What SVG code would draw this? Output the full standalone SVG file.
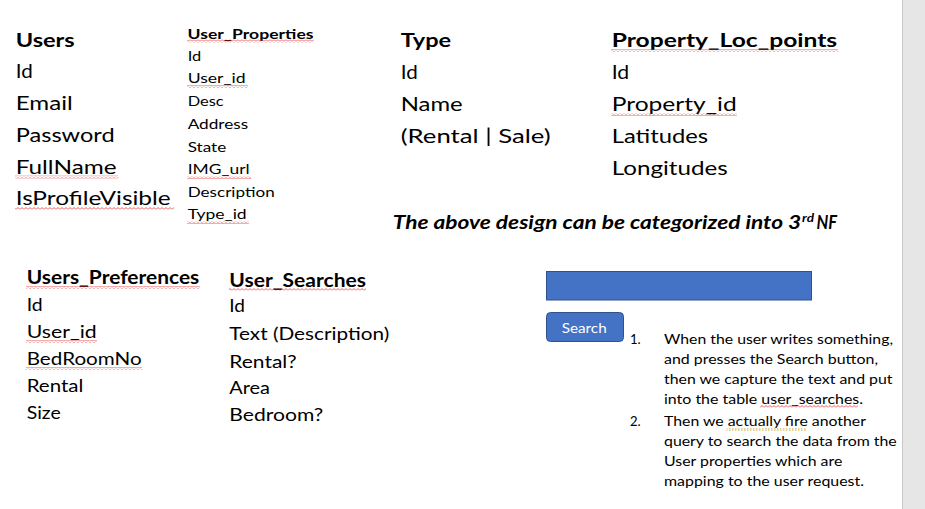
<svg xmlns="http://www.w3.org/2000/svg" width="925" height="509" viewBox="0 0 925 509">
<style>
text{font-family:Lato,"Noto Sans","Liberation Sans",sans-serif;fill:#000}
.big{font-size:19.5px}
.big-b{font-size:19.5px;font-weight:bold}
.sm{font-size:14px}
.sm-b{font-size:14px;font-weight:bold}
.md{font-size:18px}
.md-b{font-size:18px;font-weight:bold}
.it{font-size:19px;font-weight:bold;font-style:italic}
.btn{font-size:14px;fill:#fff}
.sq{fill:url(#wave)}
</style>
<defs>
<pattern id="wave" x="0" y="0" width="4" height="3" patternUnits="userSpaceOnUse">
<path d="M0,2.5 L2,0.5 L4,2.5" fill="none" stroke="#e03030" stroke-width="0.8"/>
</pattern>
<pattern id="dots" x="0" y="0" width="3" height="2" patternUnits="userSpaceOnUse">
<rect x="0" y="0" width="1.5" height="1.5" fill="#c9a227"/>
</pattern>
</defs>
<rect width="925" height="509" fill="#fff"/>
<rect x="902" y="0" width="23" height="509" fill="#e6e6e6"/>
<line x1="902.5" y1="0" x2="902.5" y2="509" stroke="#c8c8c8" stroke-width="1"/>

<g id="users">
<text class="big-b" x="15.7" y="46.5" textLength="59" lengthAdjust="spacingAndGlyphs">Users</text>
<text class="big" x="15.7" y="78" textLength="17" lengthAdjust="spacingAndGlyphs">Id</text>
<text class="big" x="15.7" y="110" textLength="57" lengthAdjust="spacingAndGlyphs">Email</text>
<text class="big" x="15.7" y="141.7" textLength="99" lengthAdjust="spacingAndGlyphs">Password</text>
<text class="big" x="15.7" y="173.7" textLength="101" lengthAdjust="spacingAndGlyphs">FullName</text>
<text class="big" x="15.7" y="205.3" textLength="155" lengthAdjust="spacingAndGlyphs">IsProfileVisible</text>
<rect class="sq" x="15" y="175.5" width="103" height="3"/>
<rect class="sq" x="15" y="207" width="159" height="3"/>
</g>

<g id="user_properties">
<text class="sm-b" x="187.5" y="38.5" textLength="126" lengthAdjust="spacingAndGlyphs">User_Properties</text>
<text class="sm" x="187.7" y="60.8" textLength="13.5" lengthAdjust="spacingAndGlyphs">Id</text>
<text class="sm" x="187.7" y="83.4" textLength="58" lengthAdjust="spacingAndGlyphs">User_id</text>
<text class="sm" x="187.7" y="106" textLength="36" lengthAdjust="spacingAndGlyphs">Desc</text>
<text class="sm" x="187.7" y="128.8" textLength="60.5" lengthAdjust="spacingAndGlyphs">Address</text>
<text class="sm" x="187.7" y="151.5" textLength="38.5" lengthAdjust="spacingAndGlyphs">State</text>
<text class="sm" x="187.7" y="174.2" textLength="62" lengthAdjust="spacingAndGlyphs">IMG_url</text>
<text class="sm" x="187.7" y="196.8" textLength="87" lengthAdjust="spacingAndGlyphs">Description</text>
<text class="sm" x="187.7" y="219.4" textLength="59" lengthAdjust="spacingAndGlyphs">Type_id</text>
<rect class="sq" x="187" y="39.5" width="127" height="3"/>
<rect class="sq" x="187" y="85" width="61" height="3"/>
<rect class="sq" x="187" y="176" width="64" height="3"/>
<rect class="sq" x="187" y="221" width="62" height="3"/>
</g>

<g id="type">
<text class="big-b" x="400.7" y="47.3" textLength="50.5" lengthAdjust="spacingAndGlyphs">Type</text>
<text class="big" x="400.7" y="78.5" textLength="17" lengthAdjust="spacingAndGlyphs">Id</text>
<text class="big" x="400.7" y="110.7" textLength="62" lengthAdjust="spacingAndGlyphs">Name</text>
<text class="big" x="400.7" y="142.8" textLength="150" lengthAdjust="spacingAndGlyphs">(Rental | Sale)</text>
</g>

<g id="property_loc_points">
<text class="big-b" x="611.7" y="47.3" textLength="225.5" lengthAdjust="spacingAndGlyphs">Property_Loc_points</text>
<text class="big" x="611.7" y="78.5" textLength="17.5" lengthAdjust="spacingAndGlyphs">Id</text>
<text class="big" x="611.7" y="110.7" textLength="125" lengthAdjust="spacingAndGlyphs">Property_id</text>
<text class="big" x="611.7" y="142.8" textLength="96.5" lengthAdjust="spacingAndGlyphs">Latitudes</text>
<text class="big" x="611.7" y="174.8" textLength="116" lengthAdjust="spacingAndGlyphs">Longitudes</text>
<rect class="sq" x="611" y="49" width="227" height="3"/>
<rect class="sq" x="611" y="113" width="126" height="3"/>
</g>

<g id="note">
<text class="it" x="392.7" y="229.3"><tspan textLength="408.5" lengthAdjust="spacingAndGlyphs">The above design can be categorized into 3</tspan></text>
<text class="it" x="802" y="221.5" style="font-size:12px" textLength="12" lengthAdjust="spacingAndGlyphs">rd</text>
<text class="it" x="816.5" y="229.3" textLength="20.5" lengthAdjust="spacingAndGlyphs">NF</text>
</g>

<g id="users_preferences">
<text class="md-b" x="26.7" y="284.3" textLength="172.6" lengthAdjust="spacingAndGlyphs">Users_Preferences</text>
<text class="md" x="26.7" y="311" textLength="16" lengthAdjust="spacingAndGlyphs">Id</text>
<text class="md" x="26.7" y="338.2" textLength="70" lengthAdjust="spacingAndGlyphs">User_id</text>
<text class="md" x="26.7" y="365" textLength="115" lengthAdjust="spacingAndGlyphs">BedRoomNo</text>
<text class="md" x="26.7" y="392.2" textLength="56.6" lengthAdjust="spacingAndGlyphs">Rental</text>
<text class="md" x="26.7" y="419.2" textLength="34" lengthAdjust="spacingAndGlyphs">Size</text>
<rect class="sq" x="26" y="286" width="174" height="3"/>
<rect class="sq" x="26" y="340" width="71" height="3"/>
<rect class="sq" x="26" y="367" width="116" height="3"/>
</g>

<g id="user_searches">
<text class="md-b" x="229.3" y="286.6" textLength="136.7" lengthAdjust="spacingAndGlyphs">User_Searches</text>
<text class="md" x="229.3" y="312.3" textLength="15.7" lengthAdjust="spacingAndGlyphs">Id</text>
<text class="md" x="229.3" y="340.3" textLength="160" lengthAdjust="spacingAndGlyphs">Text (Description)</text>
<text class="md" x="229.3" y="367.6" textLength="67.4" lengthAdjust="spacingAndGlyphs">Rental?</text>
<text class="md" x="229.3" y="394.3" textLength="40.7" lengthAdjust="spacingAndGlyphs">Area</text>
<text class="md" x="229.3" y="421" textLength="94" lengthAdjust="spacingAndGlyphs">Bedroom?</text>
<rect class="sq" x="229" y="288" width="137" height="3"/>
</g>

<g id="search_box">
<rect x="546.5" y="271.5" width="265" height="28.5" fill="#4472c4" stroke="#2f528f" stroke-width="1"/>
</g>

<g id="search_button">
<rect x="546.5" y="312.5" width="77" height="29" rx="4" ry="4" fill="#4472c4" stroke="#2f528f" stroke-width="1"/>
<text class="btn" x="561.7" y="332.7" textLength="45" lengthAdjust="spacingAndGlyphs">Search</text>
</g>

<g id="steps">
<text class="sm" x="630" y="344" textLength="10.7" lengthAdjust="spacingAndGlyphs">1.</text>
<text class="sm" x="664" y="344" textLength="229" lengthAdjust="spacingAndGlyphs">When the user writes something,</text>
<text class="sm" x="664" y="364" textLength="214" lengthAdjust="spacingAndGlyphs">and presses the Search button,</text>
<text class="sm" x="664" y="384" textLength="228.5" lengthAdjust="spacingAndGlyphs">then we capture the text and put</text>
<text class="sm" x="664" y="404" textLength="199" lengthAdjust="spacingAndGlyphs">into the table user_searches.</text>
<text class="sm" x="630" y="425.7" textLength="10.7" lengthAdjust="spacingAndGlyphs">2.</text>
<text class="sm" x="664" y="425.7" textLength="202" lengthAdjust="spacingAndGlyphs">Then we actually fire another</text>
<text class="sm" x="664" y="445.7" textLength="232.7" lengthAdjust="spacingAndGlyphs">query to search the data from the</text>
<text class="sm" x="664" y="465.7" textLength="178.3" lengthAdjust="spacingAndGlyphs">User properties which are</text>
<text class="sm" x="664" y="485.7" textLength="200" lengthAdjust="spacingAndGlyphs">mapping to the user request.</text>
<rect class="sq" x="760" y="405" width="98" height="3"/>
<rect x="726.7" y="428.5" width="80" height="2" fill="url(#dots)"/>
</g>
</svg>
